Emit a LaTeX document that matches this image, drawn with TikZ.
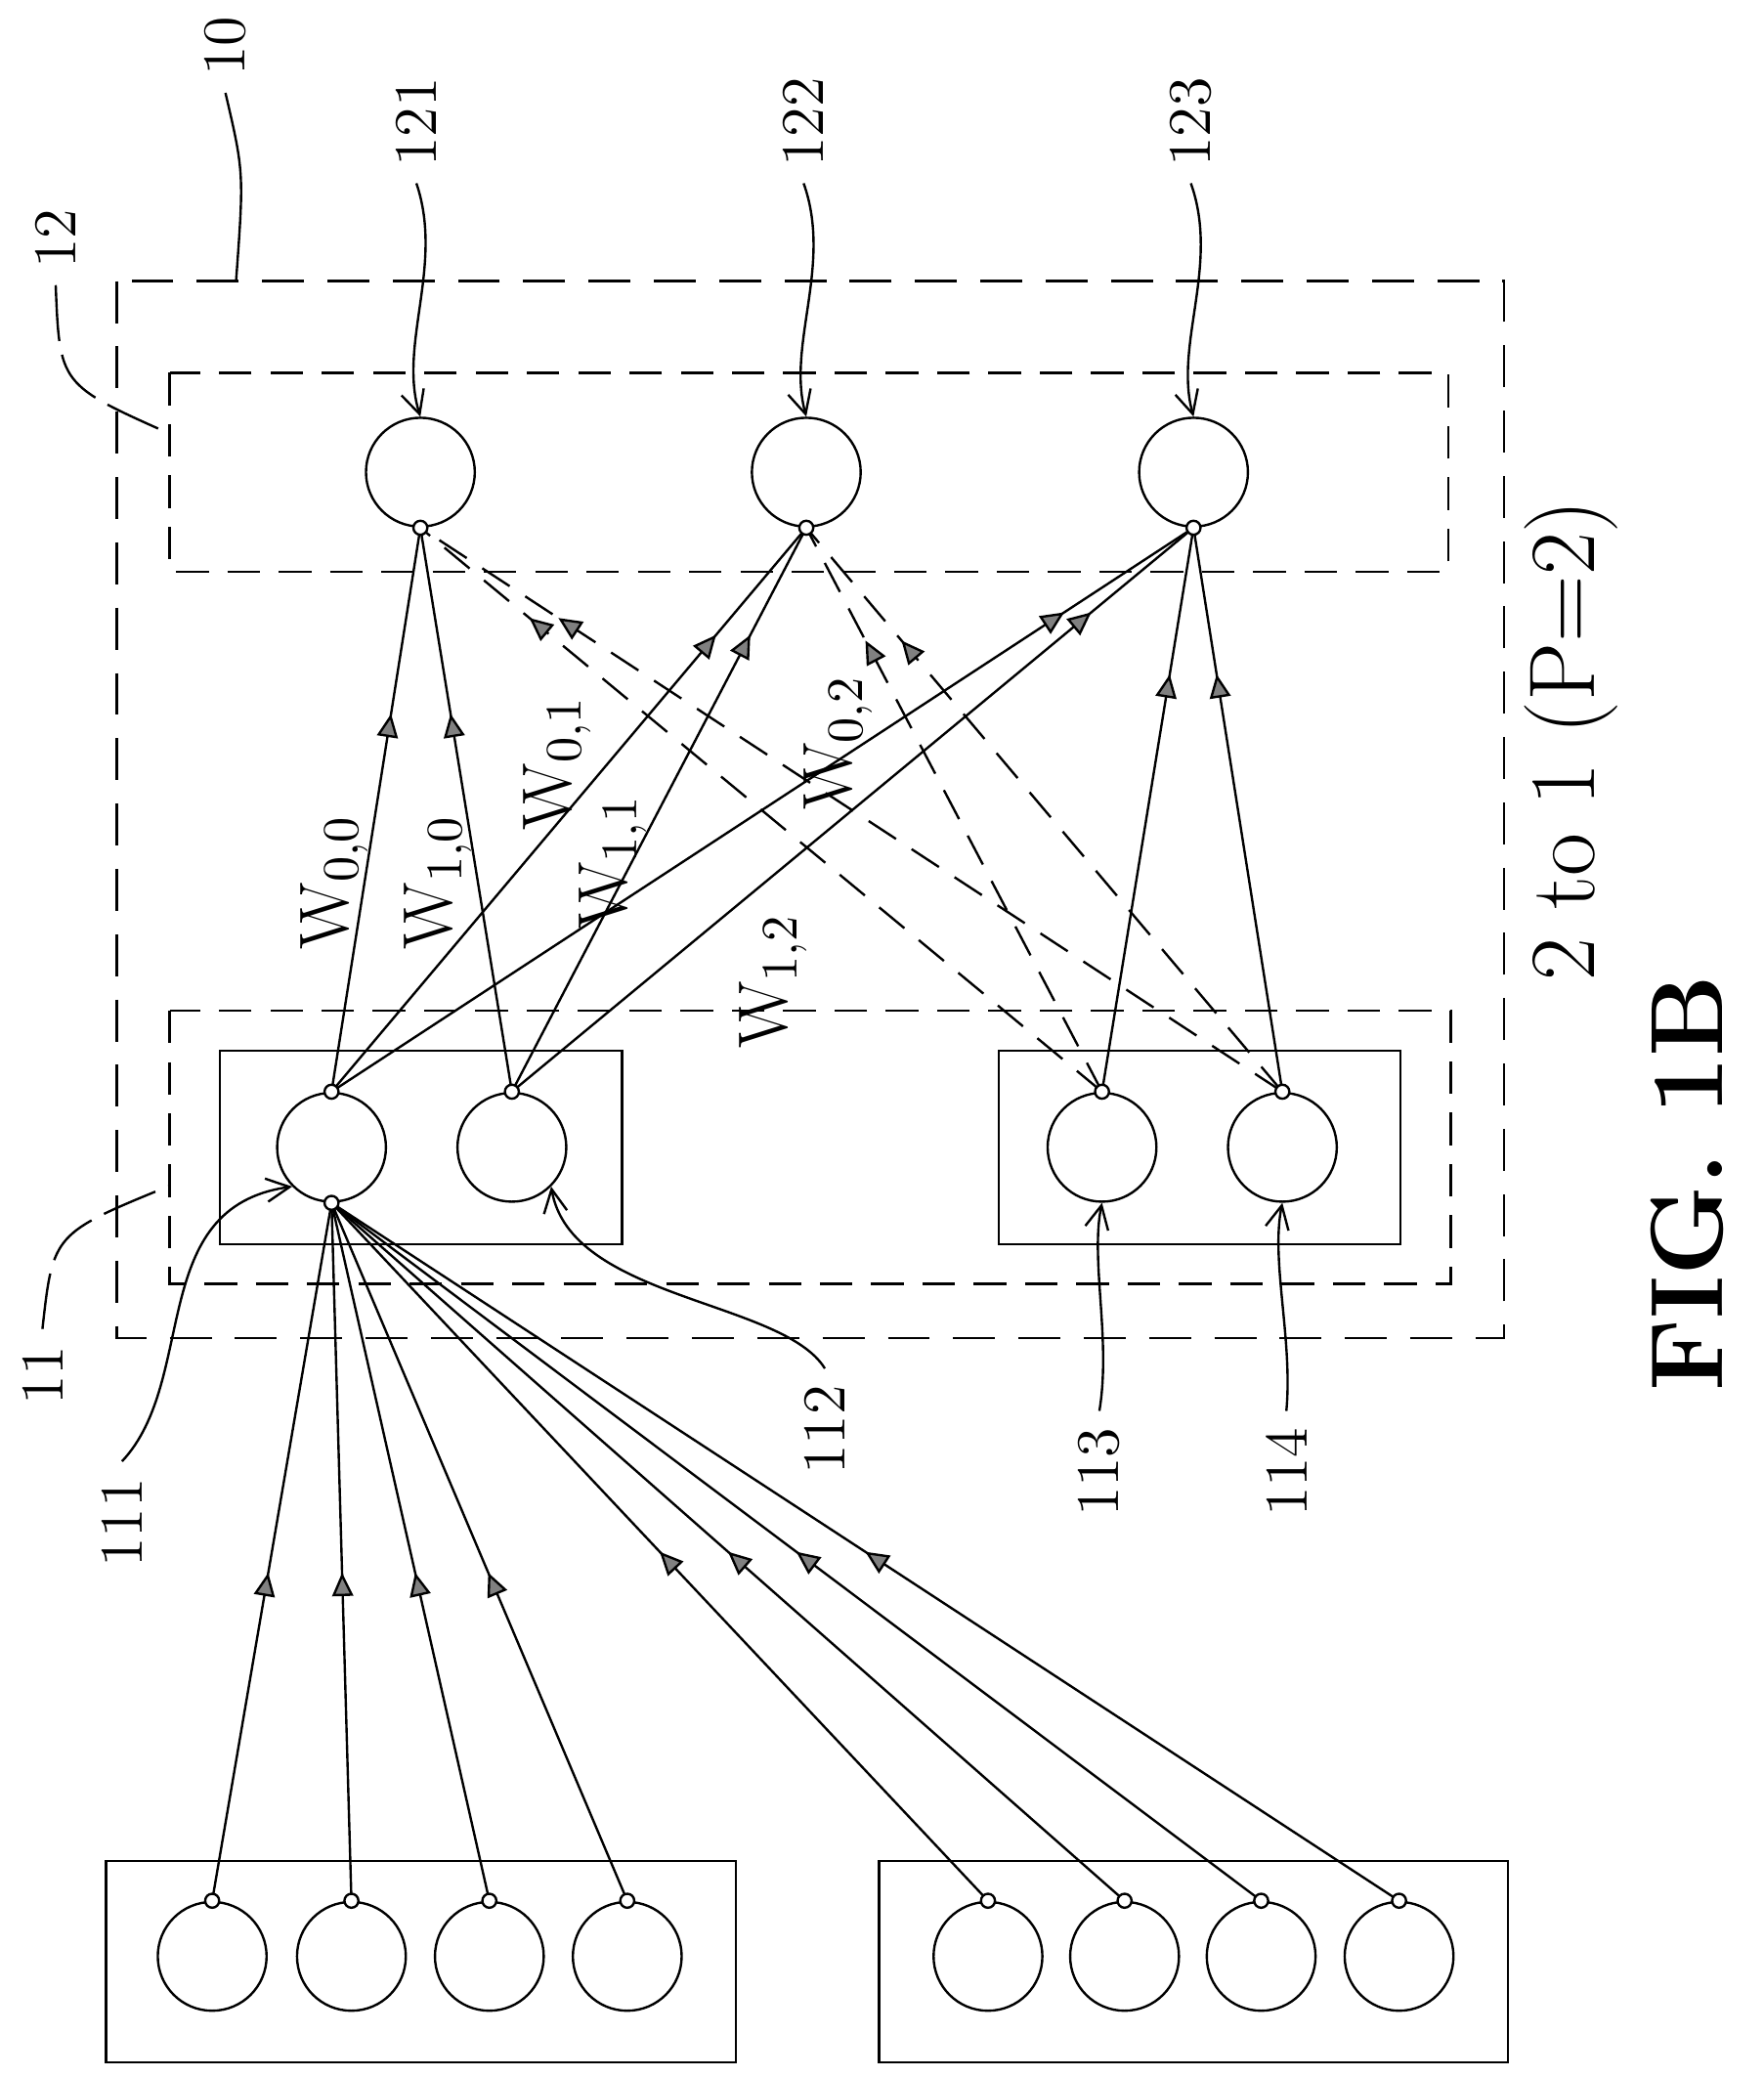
\documentclass[tikz,border=0pt]{standalone}
\usepackage{amsmath, amssymb}
\usetikzlibrary{arrows.meta, decorations.markings}

\begin{document}
\begin{tikzpicture}
            [x=0.01cm, y=-0.01cm, line width=0.5pt,
             neuron/.style={shape=circle, draw=black, minimum size=0.82cm, inner sep=0pt},
             label/.style={rotate=90, font=\fontsize{13}{15}\selectfont},
             wlabel/.style={rotate=90, font=\fontsize{15}{17}\selectfont},
             lead/.style={-{Straight Barb[length=5pt,width=5pt]}},
             midarrow/.style={postaction={decorate}, decoration={markings,
                 mark=at position #1 with {\arrow{Triangle[length=5pt,width=4.5pt,fill=gray]}}}},
             dot/.style={shape=circle, draw=black, fill=white, minimum size=3pt, inner sep=0pt},
             wide dash/.style={dash pattern=on 9pt off 5pt},
             short dash/.style={dash pattern=on 7pt off 4pt}]
            \useasboundingbox (0, 0) rectangle (1330, 1566);

            % outer boxes
            \draw[wide dash] (88, 212) rectangle (1134, 1009);
            \draw[short dash] (128, 281) rectangle (1092, 431);
            \draw[short dash] (128, 762) rectangle (1094, 968);
            \draw (166, 792) rectangle (469, 938);
            \draw (753, 792) rectangle (1056, 938);
            \draw (80, 1403) rectangle (555, 1555);
            \draw (663, 1403) rectangle (1137, 1555);

            % neurons
            \node[neuron] (n121) at (317, 356) {};
            \node[neuron] (n122) at (608, 356) {};
            \node[neuron] (n123) at (900, 356) {};
            \node[neuron] (n111) at (250, 865) {};
            \node[neuron] (n112) at (386, 865) {};
            \node[neuron] (n113) at (831, 865) {};
            \node[neuron] (n114) at (967, 865) {};
            \foreach \i/\x in {1/160, 2/265, 3/369, 4/473, 5/745, 6/848, 7/951, 8/1055}
                \node[neuron] (in\i) at (\x, 1475) {};

            % inputs
            \foreach \i/\p in {1/0.47, 2/0.47, 3/0.47, 4/0.47, 5/0.50, 6/0.50, 7/0.50, 8/0.50}
                \draw[midarrow=\p] (in\i.north) -- (n111.south);

            % weights
            \draw[midarrow=0.67] (n111.north) -- (n121.south);
            \draw[midarrow=0.67] (n112.north) -- (n121.south);
            \draw[midarrow=0.81] (n111.north) -- (n122.south);
            \draw[midarrow=0.81] (n112.north) -- (n122.south);
            \draw[midarrow=0.85] (n111.north) -- (n123.south);
            \draw[midarrow=0.85] (n112.north) -- (n123.south);
            \draw[midarrow=0.74] (n113.north) -- (n123.south);
            \draw[midarrow=0.74] (n114.north) -- (n123.south);
            \draw[short dash, midarrow=0.84] (n113.north) -- (n121.south);
            \draw[short dash, midarrow=0.84] (n114.north) -- (n121.south);
            \draw[short dash, midarrow=0.80] (n113.north) -- (n122.south);
            \draw[short dash, midarrow=0.80] (n114.north) -- (n122.south);

            \foreach \n in {n111, n112, n113, n114}
                \node[dot] at (\n.north) {};
            \foreach \n in {n121, n122, n123}
                \node[dot] at (\n.south) {};
            \node[dot] at (n111.south) {};
            \foreach \i in {1,...,8}
                \node[dot] at (in\i.north) {};

            \node[wlabel] (w00) at (252, 665) {W$_{0,0}$};
            \node[wlabel] (w10) at (330, 665) {W$_{1,0}$};
            \node[wlabel] (w01) at (420, 575) {W$_{0,1}$};
            \node[wlabel] (w11) at (462, 650) {W$_{1,1}$};
            \node[wlabel] (w02) at (632, 560) {W$_{0,2}$};
            \node[wlabel] (w12) at (583, 740) {W$_{1,2}$};
            \node[rotate=90, font=\fontsize{20}{22}\selectfont] (ratio) at (1185, 558) {2 to 1 (P=2)};
            \node[rotate=90, font=\fontsize{22}{26}\selectfont\bfseries] (fig) at (1272, 892) {FIG. 1B};

            % reference numerals
            \node[label] (l10) at (170, 35) {10};
            \node[label] (l12) at (42, 180) {12};
            \node[label] (l121) at (314, 92) {121};
            \node[label] (l122) at (606, 92) {122};
            \node[label] (l123) at (898, 92) {123};
            \node[label] (l11) at (32, 1037) {11};
            \node[label] (l111) at (92, 1148) {111};
            \node[label] (l112) at (622, 1078) {112};
            \node[label] (l113) at (829, 1110) {113};
            \node[label] (l114) at (970, 1110) {114};

            \draw (l10.west) .. controls (184, 130) .. (178, 212);
            \draw[dash pattern=on 12pt off 3pt] (l12.west) .. controls (45, 290) .. (128, 327);
            \draw[lead] (l121.west) .. controls (335, 200) and (300, 260) .. (n121.north);
            \draw[lead] (l122.west) .. controls (628, 200) and (593, 260) .. (n122.north);
            \draw[lead] (l123.west) .. controls (920, 200) and (885, 260) .. (n123.north);
            \draw[dash pattern=on 12pt off 3pt] (l11.east) .. controls (40, 930) .. (128, 894);
            \draw[lead] (l111.east) .. controls (150, 1040) and (110, 910) .. (n111.south west);
            \draw[lead] (l112.east) .. controls (590, 980) and (430, 980) .. (n112.south east);
            \draw[lead] (l113.east) .. controls (838, 1010) and (822, 950) .. (n113.south);
            \draw[lead] (l114.east) .. controls (975, 1010) and (958, 950) .. (n114.south);
        \end{tikzpicture}
\end{document}
